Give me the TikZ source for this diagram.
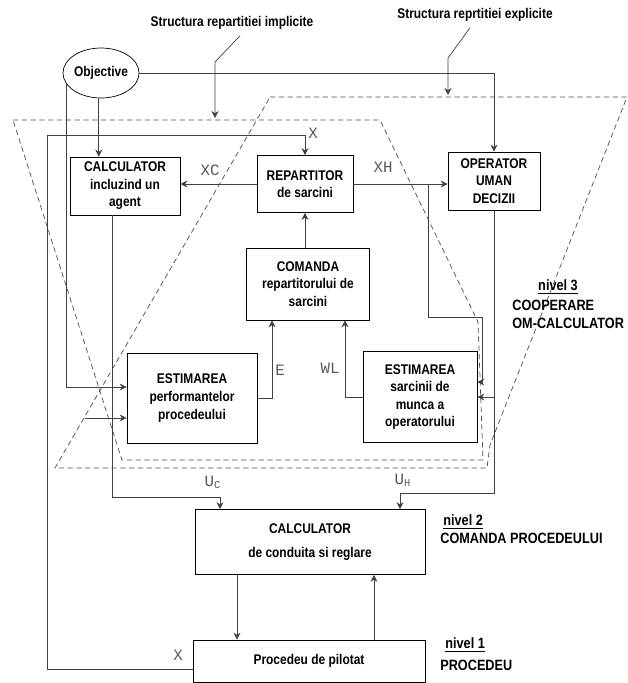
\documentclass[tikz,border=0pt]{standalone}
\usepackage{amsmath}
\usepackage{fontspec}
\setmainfont[FakeStretch=0.85]{Liberation Sans}
\newfontfamily\lblfont{Liberation Mono}
\usetikzlibrary{shapes.geometric,arrows.meta}

\begin{document}
\begin{tikzpicture}[x=0.02cm,y=-0.02cm,
  >={Stealth[length=4pt,width=4pt]},
  box/.style={draw,thin,align=center,font=\bfseries\fontsize{8}{10}\selectfont,inner sep=2pt},
  wire/.style={thin,black!75},
  zone/.style={thin,black!70,dash pattern=on 3pt off 2pt},
  sig/.style={font=\lblfont\fontsize{9}{10}\selectfont,text=black!65},
  lvl/.style={font=\bfseries\fontsize{8.5}{10}\selectfont,anchor=west,inner sep=0pt}]
\useasboundingbox (0,0) rectangle (627,683);
\draw[zone] (13,120) -- (380,120) -- (478,322) -- (483,460) -- (122,460) -- cycle;
\draw[zone] (270,97) -- (627,97) -- (490,445) -- (487,468) -- (55,468) -- cycle;
\node[font=\bfseries\fontsize{8}{10}\selectfont] (t1) at (232,23) {Structura repartitiei implicite};
\node[font=\bfseries\fontsize{8}{10}\selectfont] (t2) at (475,15) {Structura reprtitiei explicite};
\node[ellipse,draw,thin,minimum width=1.52cm,minimum height=1cm,inner sep=0pt,font=\bfseries\fontsize{8}{10}\selectfont] (obj) at (101,73) {Objective};
\node[box,minimum width=2.2cm,minimum height=1.16cm] (calc) at (125,186) {CALCULATOR\\incluzind un\\agent};
\node[box,minimum width=1.92cm,minimum height=1.14cm] (rep) at (305,184) {REPARTITOR\\de sarcini};
\node[box,minimum width=1.84cm,minimum height=1.16cm] (op) at (494,181) {OPERATOR\\UMAN\\DECIZII};
\node[box,minimum width=2.46cm,minimum height=1.44cm] (cmd) at (308,284) {COMANDA\\repartitorului de\\sarcini};
\node[box,minimum width=2.6cm,minimum height=1.8cm] (estp) at (192,398) {ESTIMAREA\\performantelor\\procedeului};
\node[box,minimum width=2.28cm,minimum height=1.82cm] (ests) at (420,397) {ESTIMAREA\\sarcinii de\\munca a\\operatorului};
\node[box,minimum width=4.6cm,minimum height=1.3cm,font=\bfseries\fontsize{8}{14}\selectfont] (cond) at (310,542) {CALCULATOR\\de conduita si reglare};
\node[box,minimum width=4.64cm,minimum height=0.84cm] (proc) at (309,661) {Procedeu de pilotat};
\node[lvl,anchor=center] (n3) at (558,287) {\underline{nivel 3}};
\node[lvl] (n3a) at (512,305) {COOPERARE};
\node[lvl] (n3b) at (512,323) {OM-CALCULATOR};
\node[lvl] (n2) at (443,522) {\underline{nivel 2}};
\node[lvl] (n2a) at (440,538) {COMANDA PROCEDEULUI};
\node[lvl] (n1) at (445,645) {\underline{nivel 1}};
\node[lvl] (n1a) at (440,665) {PROCEDEU};
\draw[wire,->] ([xshift=0.16cm]t1.south) -- (215,62) -- (215,118);
\draw[wire,->] ([xshift=-0.1cm]t2.south) -- (448,58) -- (448,95);
\draw[wire,->] (obj.east) -| (op.north);
\draw[wire,->] (obj.-95) -- (obj.-95 |- calc.north);
\draw[wire,->] (obj.197) |- ([yshift=0.22cm]estp.west);
\draw[wire,->] ([yshift=-0.16cm]proc.west) -| (47,135) -| (rep.north);
\coordinate (xe) at (85,418);
\draw[wire,->] (xe) -- (xe -| estp.west);
\draw[wire,->] (rep.west) -- (rep.west -| calc.east);
\draw[wire,->] (rep.east) -- (rep.east -| op.west);
\coordinate (xh) at ([xshift=1.5cm]rep.east);
\draw[wire,->] (xh) |- (482,317) |- ([yshift=0.3cm]ests.east);
\draw[wire,->] (op.south |- ests.east) -- (ests.east);
\coordinate (uh) at (400,493);
\draw[wire,->] (op.south) |- (uh) -- (uh |- cond.north);
\coordinate (uc) at (220,497);
\draw[wire,->] ([xshift=-0.26cm]calc.south) |- (uc) -- (uc |- cond.north);
\draw[wire,->] (estp.east) -| ([xshift=-0.72cm]cmd.south);
\draw[wire,->] (ests.west) -| ([xshift=0.74cm]cmd.south);
\draw[wire,->] (cmd.north -| rep.south) -- (rep.south);
\coordinate (cd) at ([xshift=-1.46cm]cond.south);
\draw[wire,->] (cd) -- (cd |- proc.north);
\coordinate (pc) at ([xshift=1.3cm]proc.north);
\draw[wire,->] (pc) -- (pc |- cond.south);
\node[sig] (lx) at (313,133) {X};
\node[sig] (lxc) at (210,170) {XC};
\node[sig] (lxh) at (383,167) {XH};
\node[sig] (le) at (280,370) {E};
\node[sig] (lwl) at (330,368) {WL};
\node[sig] (luc) at (213,482) {U\textsubscript{C}};
\node[sig] (luh) at (403,480) {U\textsubscript{H}};
\node[sig] (lxp) at (178,655) {X};
\end{tikzpicture}
\end{document}
